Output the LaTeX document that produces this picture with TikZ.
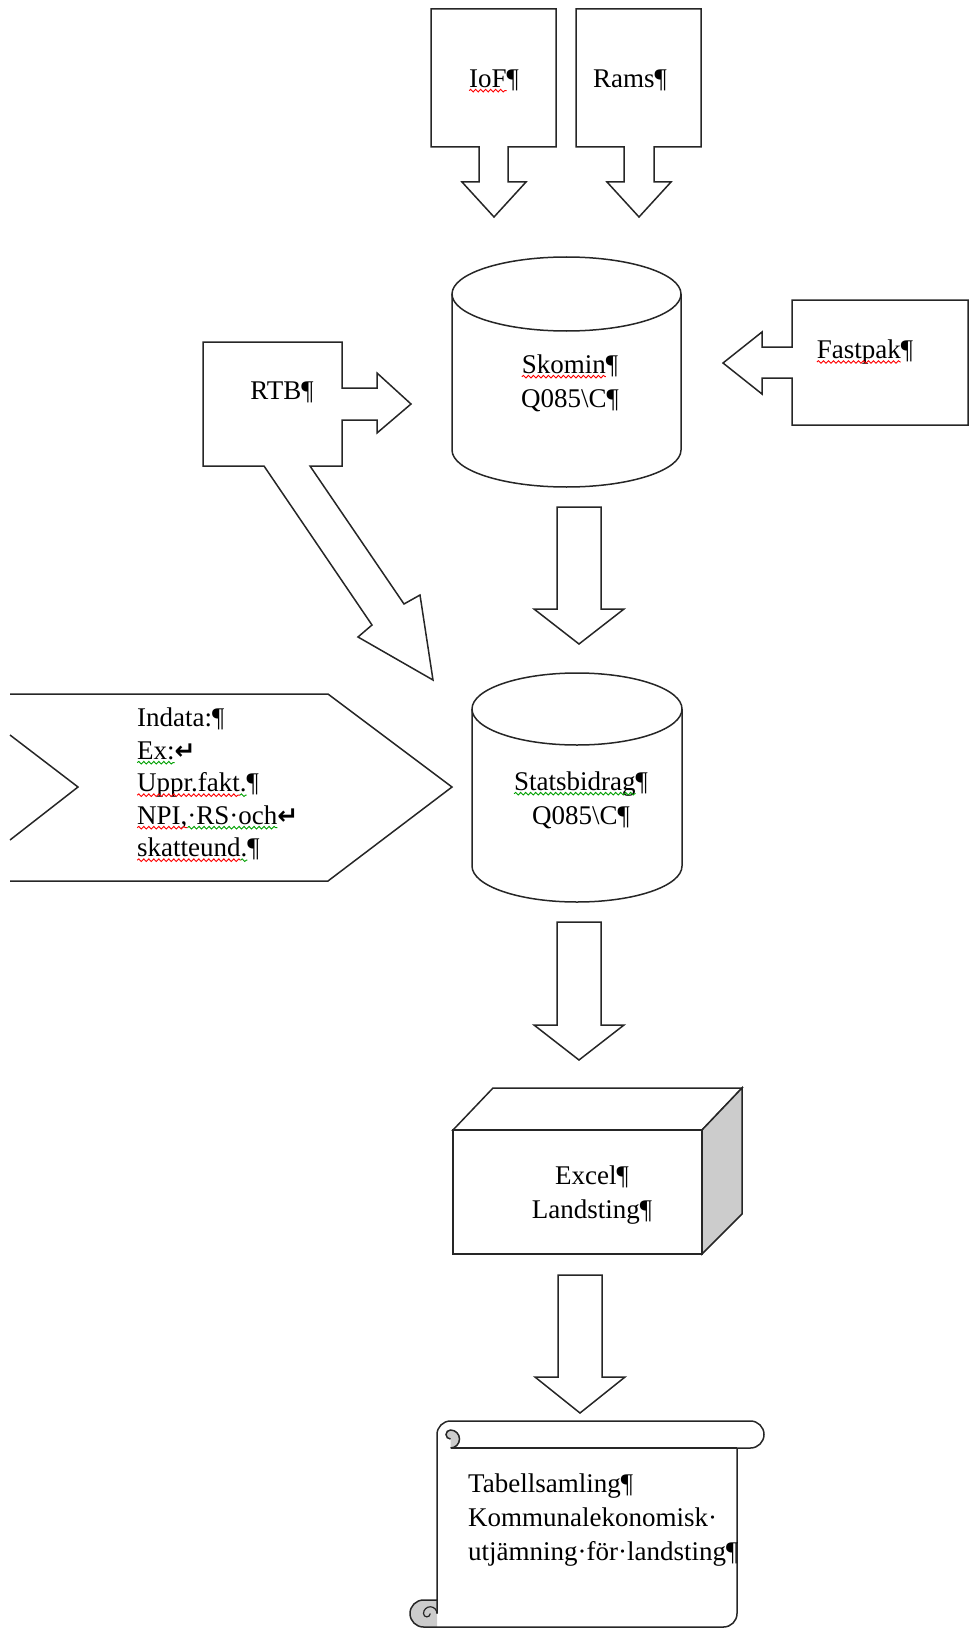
\documentclass[tikz,border=0pt]{standalone}
\usepackage{fontspec}
\setmainfont{Liberation Serif}
\newfontfamily\symfont{DejaVu Sans}
\usetikzlibrary{decorations.pathmorphing}
\definecolor{spellred}{HTML}{FF0000}
\definecolor{spellgreen}{HTML}{00A000}
% word with a wavy proofing underline in a given colour
\newcommand\wavy[2]{\tikz[baseline=(w.base)]{\node[inner sep=0pt,outer sep=0pt] (w) {#2};
  \draw[overlay,#1,line width=0.9pt,decorate,decoration={snake,amplitude=1.3pt,segment length=5pt}]
  ([yshift=-3.5pt]w.base west) -- ([yshift=-3.5pt]w.base east);}}
\newcommand\retmark{{\symfont\bfseries\fontsize{25}{25}\selectfont ↵}}
\begin{document}
\begin{tikzpicture}[x=1pt,y=-1pt,
  shp/.style={draw=black!85,line width=1.5pt,line join=miter},
  lbl/.style={font=\fontsize{27}{34}\selectfont,inner sep=0pt,align=center}]
\useasboundingbox (0,0) rectangle (970,1629);

% IoF callout with down arrow
\draw[shp] (431,9) -- (556,9) -- (556,147) -- (508,147) -- (508,182) -- (526,182)
  -- (494,217) -- (462,182) -- (479,182) -- (479,147) -- (431,147) -- cycle;
% Rams callout with down arrow
\draw[shp] (576,9) -- (701,9) -- (701,147) -- (654,147) -- (654,182) -- (671,182)
  -- (639,217) -- (607,182) -- (624,182) -- (624,147) -- (576,147) -- cycle;
% RTB callout with right arrow and diagonal arrow
\draw[shp] (203,342) -- (342,342) -- (342,388) -- (377,388) -- (377,373) -- (411,404)
  -- (377,433) -- (377,420) -- (342,420) -- (342,466) -- (310,466) -- (404,604)
  -- (420,595) -- (433,680) -- (358,637) -- (372,625) -- (264,466) -- (203,466) -- cycle;
% Fastpak callout with left arrow
\draw[shp] (792,347) -- (792,300) -- (968,300) -- (968,425) -- (792,425) -- (792,378)
  -- (762,378) -- (762,394) -- (723,363) -- (762,332) -- (762,347) -- cycle;

% Skomin database
\draw[shp] (452,294) -- (452,450)
  arc[start angle=180,end angle=360,x radius=114.5pt,y radius=37pt] -- (681,294);
\draw[shp] (566.5,294) ellipse[x radius=114.5pt,y radius=37pt];

% arrow Skomin -> Statsbidrag
\draw[shp] (557,507) -- (601,507) -- (601,609) -- (624,609) -- (579,644) -- (534,609)
  -- (557,609) -- cycle;

% Indata chevron
\draw[shp] (10,694) -- (328,694) -- (452,787) -- (328,881) -- (10,881);
\draw[shp] (10,735) -- (78,787) -- (10,840);

% Statsbidrag database
\draw[shp] (472,709) -- (472,866)
  arc[start angle=180,end angle=360,x radius=105pt,y radius=36pt] -- (682,709);
\draw[shp] (577,709) ellipse[x radius=105pt,y radius=36pt];

% arrow Statsbidrag -> Excel
\draw[shp] (557,922) -- (601,922) -- (601,1025) -- (624,1025) -- (579,1060) -- (534,1025)
  -- (557,1025) -- cycle;

% Excel box
\draw[shp] (453,1130) rectangle (702,1254);
\draw[shp] (453,1130) -- (493,1088) -- (742,1088) -- (702,1130) -- cycle;
\draw[shp,fill=gray!40] (702,1130) -- (742,1088) -- (742,1214) -- (702,1254) -- cycle;

% arrow Excel -> Tabellsamling
\draw[shp] (558,1275) -- (602,1275) -- (602,1377) -- (625,1377) -- (580,1413) -- (535,1377)
  -- (558,1377) -- cycle;

% Tabellsamling scroll
\fill[gray!40] (437,1600) -- (423.5,1600) arc[start angle=90,end angle=270,radius=13.5pt]
  -- (437,1627) -- cycle;
\draw[shp] (437,1613.5) -- (437,1434.5) arc[start angle=180,end angle=90,radius=13.5pt]
  -- (750.5,1421) arc[start angle=90,end angle=-90,radius=13.5pt] -- (737,1448)
  -- (737,1613.5) arc[start angle=0,end angle=-90,radius=13.5pt] -- (423.5,1627)
  arc[start angle=270,end angle=90,radius=13.5pt] -- (437,1600);
\draw[shp] (450.5,1448) -- (737,1448);
\draw[shp,fill=gray!40] (450.5,1448) arc[start angle=-90,end angle=90,radius=9pt]
  arc[start angle=90,end angle=270,radius=4.5pt];
\draw[shp,line width=1.2pt] (437,1613.5) arc[start angle=0,end angle=180,radius=6.75pt]
  arc[start angle=180,end angle=360,radius=3.375pt];

% labels
\node[lbl] (iof) at (494,80) {\wavy{spellred}{IoF}¶};
\node[lbl] (rams) at (630,80) {Rams¶};
\node[lbl] (rtb) at (282,392) {RTB¶};
\node[lbl] (skomin) at (570,383) {\wavy{spellred}{Skomin}¶\\Q085\textbackslash C¶};
\node[lbl] (fastpak) at (865,352) {\wavy{spellred}{Fastpak}¶};
\node[lbl,font=\fontsize{27}{32.5}\selectfont,align=left,anchor=west] (indata) at (137,784)
  {Indata:¶\\\wavy{spellgreen}{Ex:}\retmark\\\wavy{spellred}{Uppr.fakt}\wavy{spellgreen}{.}¶\\
   \wavy{spellred}{NPI,}\wavy{spellgreen}{·RS·och}\retmark\\\wavy{spellred}{skatteund}\wavy{spellgreen}{.}¶};
\node[lbl] (stats) at (581,800) {\wavy{spellgreen}{Statsbidrag}¶\\Q085\textbackslash C¶};
\node[lbl] (excel) at (592,1195) {Excel¶\\Landsting¶};
\node[lbl,align=left,anchor=west] (tab) at (468,1520)
  {Tabellsamling¶\\Kommunalekonomisk·\\utjämning·för·landsting¶};
\end{tikzpicture}
\end{document}
